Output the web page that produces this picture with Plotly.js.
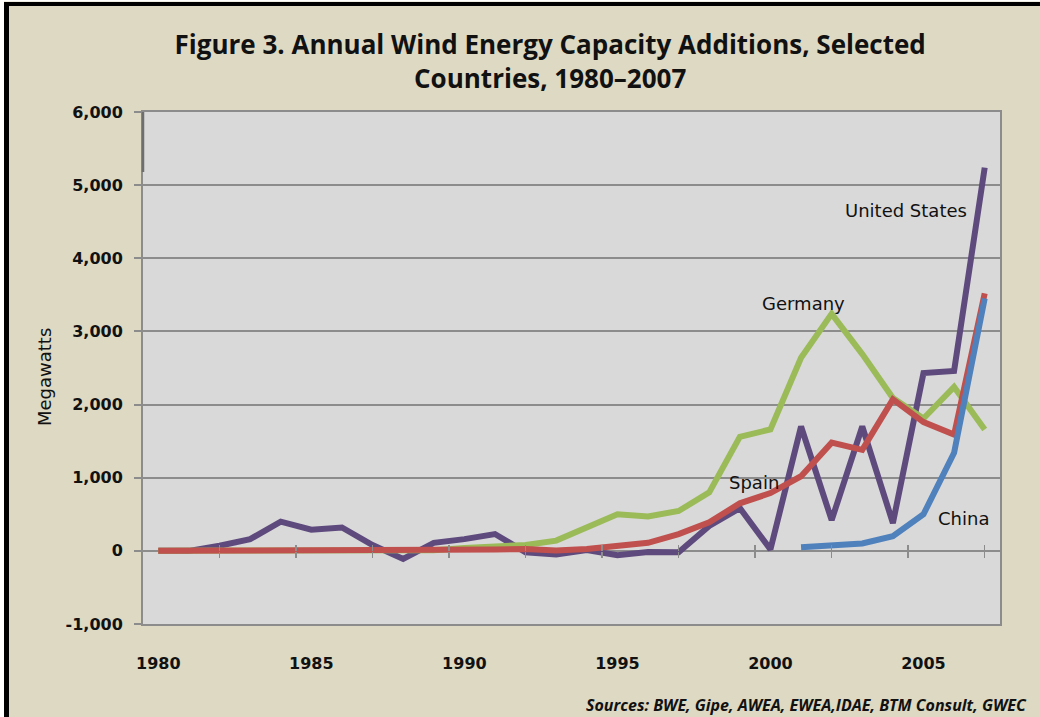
<!DOCTYPE html>
<html>
<head>
<meta charset="utf-8">
<script src="https://cdn.plot.ly/plotly-3.0.1.min.js"></script>
<style>html,body{margin:0;padding:0;background:#fff;}#chart{width:1040px;height:717px;}</style>
</head>
<body>
<div id="chart"></div>
<script>
const years = [1980,1981,1982,1983,1984,1985,1986,1987,1988,1989,1990,1991,1992,1993,1994,1995,1996,1997,1998,1999,2000,2001,2002,2003,2004,2005,2006,2007];
const unitedStates = [0,0,70,160,400,290,320,80,-110,110,160,230,-20,-50,10,-60,-15,-20,340,585,20,1700,420,1700,380,2430,2460,5240];
const germany = [0,0,0,0,0,0,0,0,0,10,40,60,80,140,310,500,470,545,800,1560,1660,2640,3240,2690,2090,1810,2240,1660];
const spain = [0,0,0,0,0,0,0,0,0,0,0,20,25,5,25,60,110,230,390,650,790,1020,1480,1380,2070,1760,1590,3520];
const china = [null,null,null,null,null,null,null,null,null,null,null,null,null,null,null,null,null,null,null,null,null,50,70,100,200,500,1340,3450];
const seriesNames = ["United States","Germany","Spain","China"];
const yTickVals = [-1000,0,1000,2000,3000,4000,5000,6000];
const yTickText = ["-1,000","0","1,000","2,000","3,000","4,000","5,000","6,000"];
const xTickVals = [1980,1985,1990,1995,2000,2005];
const xMinorTicks = [1982,1984.5,1987,1989.5,1992,1994.5,1997,1999.5,2002,2004.5,2007];

const colors = {"United States":"#5F4A7E","Germany":"#9BBB59","Spain":"#C0504D","China":"#4F81BD"};
const dataBy = {"United States":unitedStates,"Germany":germany,"Spain":spain,"China":china};

const W = 1040, H = 717, L = 143, R = 1000, T = 112, B = 624;
const px = v => (v - L) / (R - L);
const py = v => (B - v) / (B - T);

const traces = seriesNames.map(n => ({
  type: 'scatter', mode: 'lines', name: n, x: years, y: dataBy[n],
  line: {color: colors[n], width: 6, shape: 'linear'},
  connectgaps: false, hoverinfo: 'skip', showlegend: false
}));
traces.push({type:'scatter', mode:'lines', x:[], y:[], xaxis:'x2', yaxis:'y', showlegend:false, hoverinfo:'skip'});
traces.push({type:'scatter', mode:'lines', x:[], y:[], xaxis:'x3', yaxis:'y', showlegend:false, hoverinfo:'skip'});

const labelFont = {family: 'DejaVu Sans, sans-serif', size: 18, color: '#111'};
const tickFont = {family: 'DejaVu Sans, sans-serif', size: 16, color: '#111', weight: 700};
const minorAxis = (ticksDir) => ({
  range: [1979.5, 2007.5], overlaying: 'x', anchor: 'free', position: 1/7, side: 'bottom',
  tickvals: xMinorTicks, ticks: ticksDir, ticklen: 6, tickwidth: 1.5, tickcolor: '#8C8C8C',
  showticklabels: false, showgrid: false, zeroline: false, showline: false
});
const layout = {
  width: W, height: H,
  paper_bgcolor: '#DDD9C3',
  plot_bgcolor: '#D9D9D9',
  margin: {l: L, r: W - R, t: T, b: H - B, pad: 0},
  showlegend: false,
  title: {
    text: 'Figure 3. Annual Wind Energy Capacity Additions, Selected<br>Countries, 1980–2007',
    x: 0.529, xanchor: 'center', y: 1 - 54/717, yanchor: 'middle',
    font: {family: 'Open Sans, sans-serif', size: 26, color: '#111', weight: 700}
  },
  xaxis: {
    range: [1979.5, 2007.5], tickvals: xTickVals, ticks: '', showgrid: false, zeroline: false,
    showline: true, mirror: true, linecolor: '#8C8C8C', linewidth: 2,
    ticklabelstandoff: 24,
    tickfont: tickFont
  },
  xaxis2: minorAxis('outside'),
  xaxis3: minorAxis('inside'),
  yaxis: {
    range: [-1000, 6000], tickvals: yTickVals, ticktext: yTickText,
    ticks: 'outside', ticklen: 7, tickwidth: 2, tickcolor: '#8C8C8C',
    showgrid: true, gridcolor: '#8C8C8C', gridwidth: 2, zeroline: false,
    showline: true, mirror: true, linecolor: '#8C8C8C', linewidth: 2,
    ticklabelstandoff: 8,
    tickfont: tickFont
  },
  annotations: [
    {text: 'Megawatts', xref: 'paper', yref: 'paper', x: px(44), y: py(377), textangle: -90,
     showarrow: false, xanchor: 'center', yanchor: 'middle',
     font: {family: 'DejaVu Sans, sans-serif', size: 18, color: '#111'}},
    {text: 'United States', xref: 'paper', yref: 'paper', x: px(906), y: py(210), showarrow: false, xanchor: 'center', yanchor: 'middle', font: labelFont},
    {text: 'Germany', xref: 'paper', yref: 'paper', x: px(803), y: py(303), showarrow: false, xanchor: 'center', yanchor: 'middle', font: labelFont},
    {text: 'Spain', xref: 'paper', yref: 'paper', x: px(754), y: py(482), showarrow: false, xanchor: 'center', yanchor: 'middle', font: labelFont},
    {text: 'China', xref: 'paper', yref: 'paper', x: px(963), y: py(518), showarrow: false, xanchor: 'center', yanchor: 'middle', font: labelFont},
    {text: 'Sources: BWE, Gipe, AWEA, EWEA,IDAE, BTM Consult, GWEC', xref: 'paper', yref: 'paper',
     x: px(584), y: py(705), showarrow: false, xanchor: 'left', yanchor: 'middle',
     font: {family: 'Open Sans, sans-serif', size: 16, color: '#111', weight: 700, style: 'italic'}}
  ],
  shapes: [
    {type: 'rect', xref: 'paper', yref: 'paper', x0: px(0), x1: px(4), y0: py(0), y1: py(H), fillcolor: '#FFFFFF', line: {width: 0}, layer: 'above'},
    {type: 'rect', xref: 'paper', yref: 'paper', x0: px(0), x1: px(W), y0: py(0), y1: py(1.5), fillcolor: '#FFFFFF', line: {width: 0}, layer: 'above'},
    {type: 'line', xref: 'paper', yref: 'paper', x0: px(6.5), x1: px(6.5), y0: py(2), y1: py(H), line: {color: '#000', width: 5}, layer: 'above'},
    {type: 'line', xref: 'paper', yref: 'paper', x0: px(4), x1: px(W), y0: py(4), y1: py(4), line: {color: '#000', width: 4}, layer: 'above'},
    {type: 'line', xref: 'paper', yref: 'paper', x0: px(143), x1: px(143), y0: py(112), y1: py(172), line: {color: '#6E6E6E', width: 2.5}, layer: 'above'}
  ]
};
Plotly.newPlot('chart', traces, layout, {staticPlot: true, displayModeBar: false});
</script>
</body>
</html>
